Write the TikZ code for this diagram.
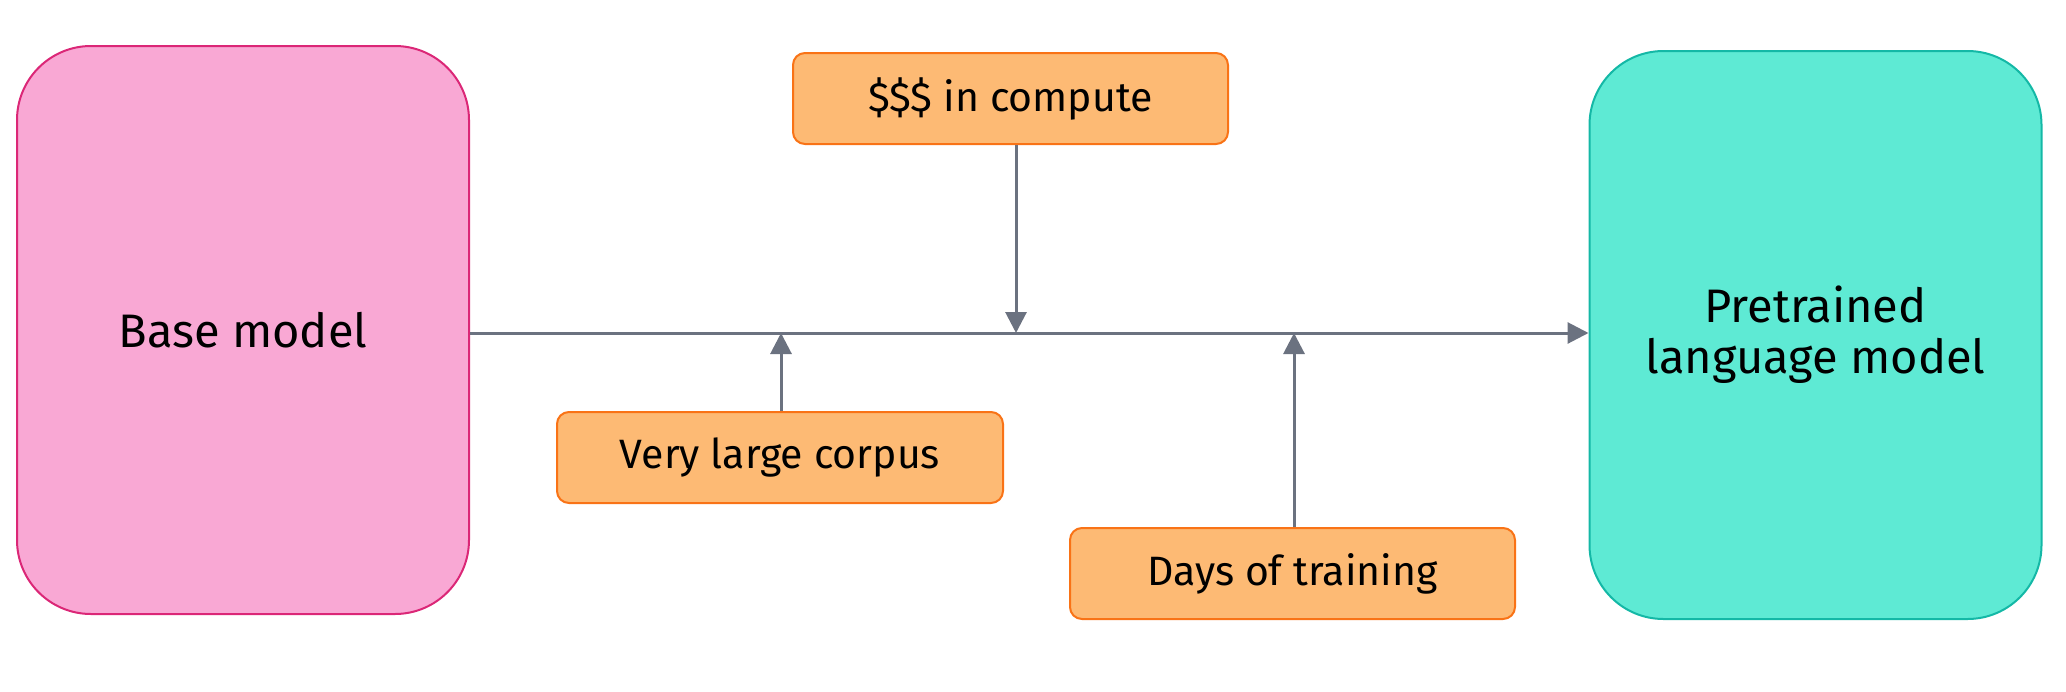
\documentclass[tikz,border=0pt]{standalone}
\usepackage{fontspec}
\setmainfont{Fira Sans}
\usetikzlibrary{arrows.meta}
\definecolor{pinkfill}{HTML}{F9A8D4}
\definecolor{pinkdraw}{HTML}{DB2777}
\definecolor{tealfill}{HTML}{5EEAD4}
\definecolor{tealdraw}{HTML}{14B8A6}
\definecolor{orangefill}{HTML}{FDBA74}
\definecolor{orangedraw}{HTML}{F97316}
\definecolor{arrowgray}{HTML}{6B7280}
\tikzset{
  bigbox/.style={rectangle, rounded corners=74pt, minimum width=452pt, minimum height=568pt,
    inner sep=0pt, line width=2pt, align=center,
    font=\fontsize{47}{51}\selectfont},
  smallbox/.style={rectangle, rounded corners=12pt, fill=orangefill, draw=orangedraw,
    line width=2pt, minimum height=91pt, inner sep=0pt,
    font=\fontsize{41}{48}\selectfont},
  arr/.style={draw=arrowgray, line width=3pt,
    -{Triangle[length=21pt,width=21pt]}},
}
\begin{document}
\begin{tikzpicture}[x=1pt,y=-1pt]
\useasboundingbox (0,0) rectangle (2066,691);
\node[bigbox, fill=pinkfill, draw=pinkdraw] (base) at (243,330) {Base model};
\node[bigbox, fill=tealfill, draw=tealdraw] (pre) at (1815.5,335) {Pretrained\\language model};
\node[smallbox, minimum width=435pt] (cost) at (1010.5,98.5) {\$\$\$ in compute};
\node[smallbox, minimum width=446pt] (corpus) at (780,457.5) {Very large corpus};
\node[smallbox, minimum width=445pt] (days) at (1292.5,573.5) {Days of training};
\coordinate (m1) at (1016,333);
\coordinate (m2) at (781,333);
\coordinate (m3) at (1294,333);
\draw[arr] (base.east |- 0,333) -- (pre.west |- 0,333);
\draw[arr] (cost.south -| m1) -- (m1);
\draw[arr] (corpus.north -| m2) -- (m2);
\draw[arr] (days.north -| m3) -- (m3);
\end{tikzpicture}
\end{document}
